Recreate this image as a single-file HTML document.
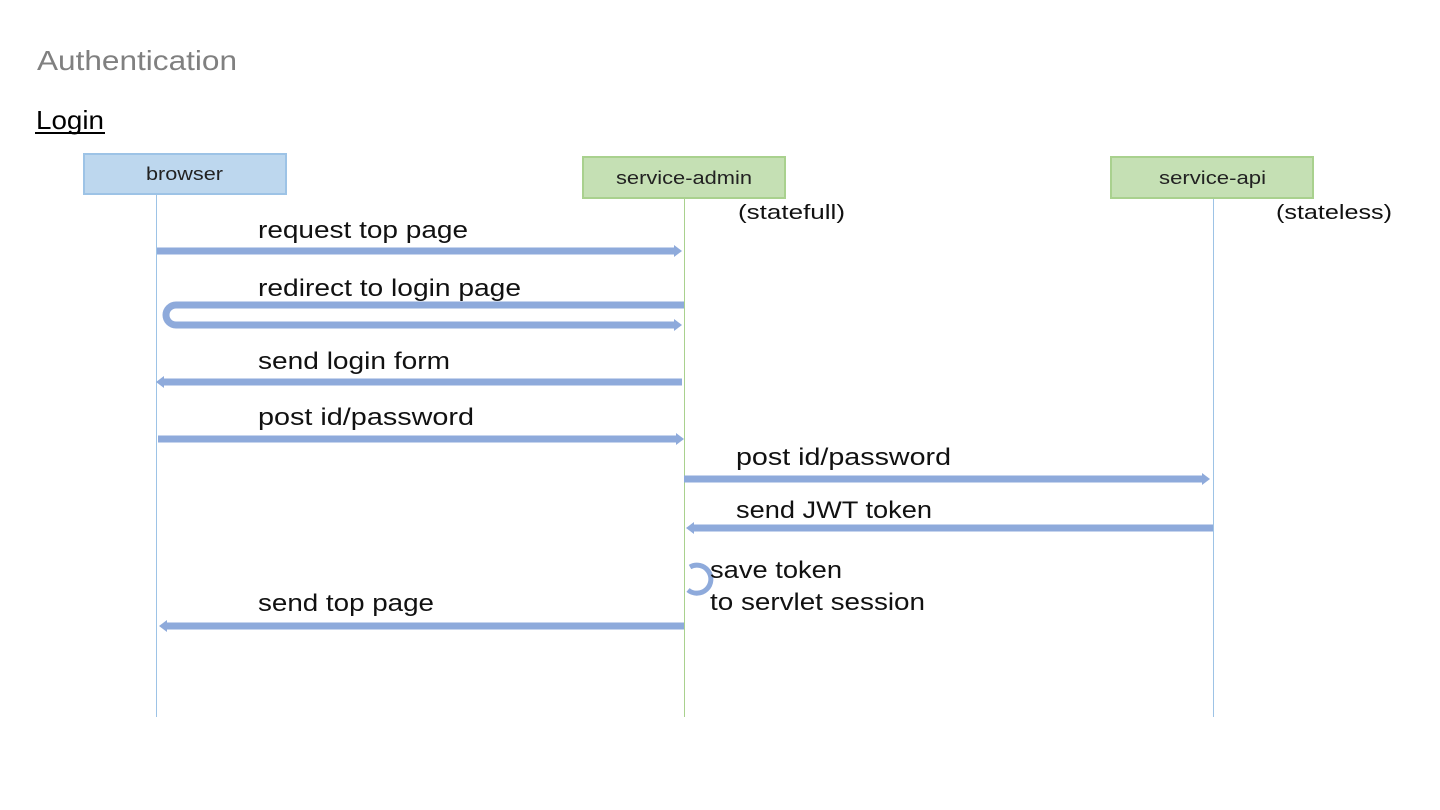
<!DOCTYPE html>
<html><head><meta charset="utf-8"><style>
html,body{margin:0;padding:0;background:#fff;}
svg{display:block;font-family:"Liberation Sans","Noto Sans CJK JP",sans-serif;}
</style></head><body>
<svg width="1440" height="810" viewBox="0 0 1440 810" xmlns="http://www.w3.org/2000/svg">
<defs>
<marker id="ah" markerWidth="10" markerHeight="14" refX="2" refY="7" orient="auto" markerUnits="userSpaceOnUse">
<path d="M0,1 L8,7 L0,13 Z" fill="#8eaadb"/></marker>
</defs>
<text x="37" y="70" font-size="28" fill="#808080" textLength="200" lengthAdjust="spacingAndGlyphs">Authentication</text>
<text x="36" y="129" font-size="26" fill="#000" textLength="68" lengthAdjust="spacingAndGlyphs">Login</text>
<rect x="35" y="132" width="70" height="2" fill="#000"/>
<line x1="156.5" y1="195" x2="156.5" y2="717" stroke="#9dc3e6" stroke-width="1"/>
<line x1="684.5" y1="199" x2="684.5" y2="717" stroke="#a9d18e" stroke-width="1"/>
<line x1="1213.5" y1="199" x2="1213.5" y2="717" stroke="#9dc3e6" stroke-width="1"/>
<rect x="84" y="154" width="202" height="40" fill="#bdd7ee" stroke="#9dc3e6" stroke-width="2"/>
<text x="146" y="180" font-size="18" fill="#222" textLength="77" lengthAdjust="spacingAndGlyphs">browser</text>
<rect x="583" y="157" width="202" height="41" fill="#c5e0b4" stroke="#a9d18e" stroke-width="2"/>
<text x="616" y="184" font-size="18" fill="#222" textLength="136" lengthAdjust="spacingAndGlyphs">service-admin</text>
<rect x="1111" y="157" width="202" height="41" fill="#c5e0b4" stroke="#a9d18e" stroke-width="2"/>
<text x="1159" y="184" font-size="18" fill="#222" textLength="107" lengthAdjust="spacingAndGlyphs">service-api</text>
<text x="738" y="219" font-size="20" fill="#111" textLength="107" lengthAdjust="spacingAndGlyphs">(statefull)</text>
<text x="1276" y="219" font-size="20" fill="#111" textLength="116" lengthAdjust="spacingAndGlyphs">(stateless)</text>
<g stroke="#8eaadb" stroke-width="7" fill="none">
<line x1="157" y1="251" x2="676" y2="251" marker-end="url(#ah)"/>
<path d="M684,305 L176,305 A10,10 0 0 0 176,325 L676,325" marker-end="url(#ah)"/>
<line x1="682" y1="382" x2="162" y2="382" marker-end="url(#ah)"/>
<line x1="158" y1="439" x2="678" y2="439" marker-end="url(#ah)"/>
<line x1="684" y1="479" x2="1204" y2="479" marker-end="url(#ah)"/>
<line x1="1213" y1="528" x2="692" y2="528" marker-end="url(#ah)"/>
<line x1="684" y1="626" x2="165" y2="626" marker-end="url(#ah)"/>
<path d="M690,567 A14,14 0 1 1 688,590" stroke-width="5"/>
</g>
<g font-size="24" fill="#111" lengthAdjust="spacingAndGlyphs">
<text x="258" y="238" textLength="210" lengthAdjust="spacingAndGlyphs">request top page</text>
<text x="258" y="296" textLength="263" lengthAdjust="spacingAndGlyphs">redirect to login page</text>
<text x="258" y="369" textLength="192" lengthAdjust="spacingAndGlyphs">send login form</text>
<text x="258" y="425" textLength="216" lengthAdjust="spacingAndGlyphs">post id/password</text>
<text x="736" y="465" textLength="215" lengthAdjust="spacingAndGlyphs">post id/password</text>
<text x="736" y="518" textLength="196" lengthAdjust="spacingAndGlyphs">send JWT token</text>
<text x="710" y="578" textLength="132" lengthAdjust="spacingAndGlyphs">save token</text>
<text x="710" y="610" textLength="215" lengthAdjust="spacingAndGlyphs">to servlet session</text>
<text x="258" y="611" textLength="176" lengthAdjust="spacingAndGlyphs">send top page</text>
</g>
</svg>
</body></html>
